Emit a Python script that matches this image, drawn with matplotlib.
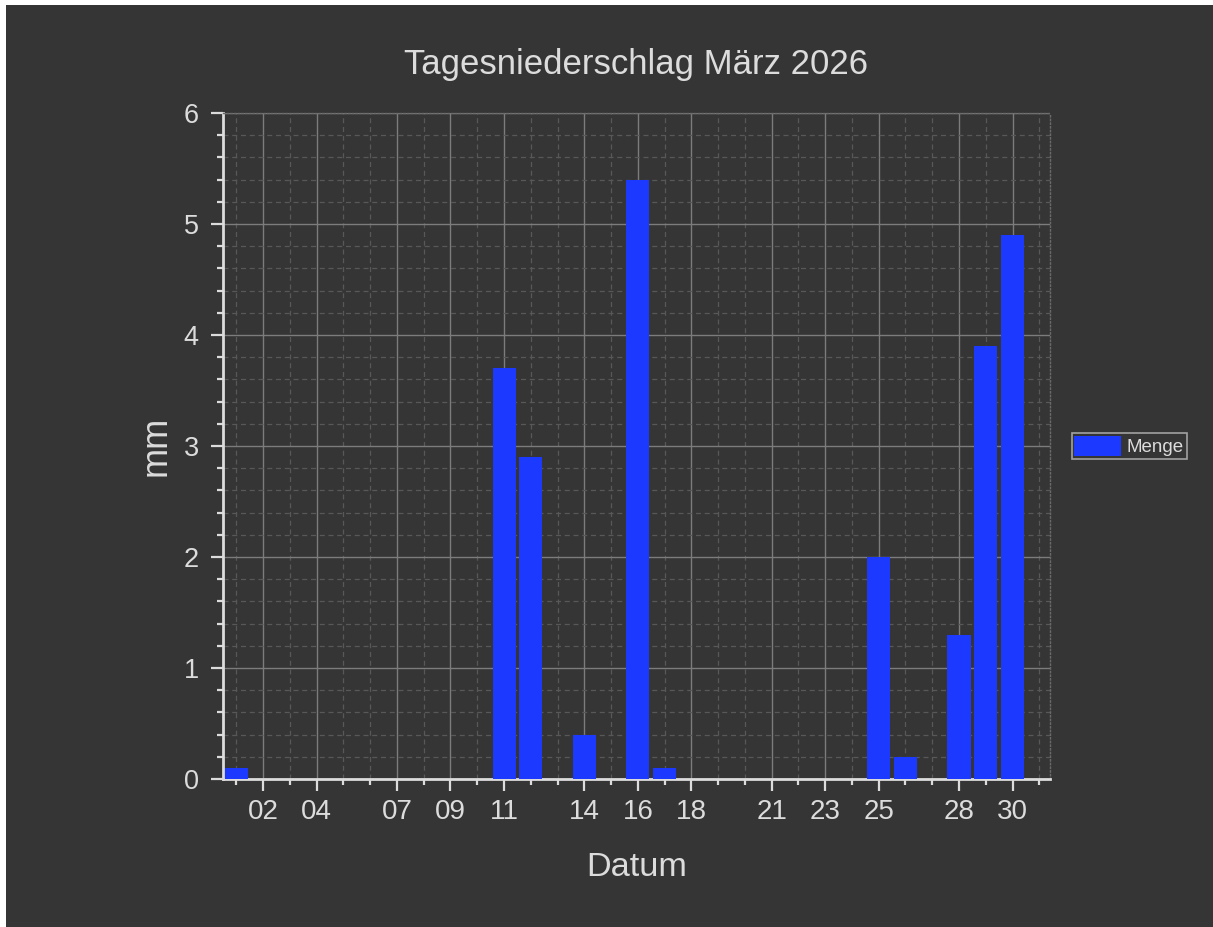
import matplotlib.pyplot as plt
from matplotlib.patches import Rectangle
from matplotlib.ticker import FixedLocator, MultipleLocator

# Niederschlag pro Tag im März 2026
tage = list(range(1, 32))
menge = [0.1, 0, 0, 0, 0, 0, 0, 0, 0, 0,
         3.7, 2.9, 0, 0.4, 0, 5.4, 0.1, 0, 0, 0,
         0, 0, 0, 0, 2.0, 0.2, 0, 1.3, 3.9, 4.9, 0]
tick_tage = [2, 4, 7, 9, 11, 14, 16, 18, 21, 23, 25, 28, 30]
tick_labels = ["02", "04", "07", "09", "11", "14", "16", "18", "21", "23", "25", "28", "30"]

bg = "#353535"
fg = "#dcdcdc"

plt.rcParams["font.family"] = ["Liberation Sans", "DejaVu Sans"]

fig = plt.figure(figsize=(12.13, 9.27), dpi=100, facecolor="white")
# dunkler Hintergrund, oben/links ein schmaler weisser Rand
fig.patches.append(Rectangle((6 / 1213, 0), 1, 1 - 5 / 927, transform=fig.transFigure,
                             facecolor=bg, edgecolor="none", zorder=-10))
ax = fig.add_axes([223 / 1213, 1 - 779 / 927, 827 / 1213, 666 / 927])
ax.set_facecolor(bg)

ax.bar(tage, menge, width=0.86, color="#1c3aff", label="Menge", zorder=3)

ax.set_xlim(0.5, 31.4)
ax.set_ylim(0, 6)
ax.xaxis.set_major_locator(FixedLocator(tick_tage))
ax.set_xticklabels(tick_labels)
ax.xaxis.set_minor_locator(MultipleLocator(1))
ax.yaxis.set_major_locator(MultipleLocator(1))
ax.yaxis.set_minor_locator(MultipleLocator(0.2))

ax.grid(which="major", color="#7c7c7c", linewidth=1.0, linestyle="-", zorder=1)
ax.grid(which="minor", color="#585858", linewidth=0.9, linestyle=(0, (4, 3)), zorder=0)
ax.set_axisbelow(True)

for s in ["left", "bottom"]:
    ax.spines[s].set_color(fg)
    ax.spines[s].set_linewidth(2)
for s in ["top", "right"]:
    ax.spines[s].set_color("#6a6a6a")
    ax.spines[s].set_linewidth(1)
    ax.spines[s].set_linestyle(":")

ax.tick_params(which="major", length=8.5, width=1.6, color=fg, labelcolor=fg, pad=7)
ax.tick_params(which="minor", length=4.3, width=1.6, color=fg)
ax.tick_params(axis="x", which="major", labelsize=20, pad=6)
ax.tick_params(axis="y", which="major", labelsize=19.5, pad=9)

ax.set_title("Tagesniederschlag März 2026", color=fg, fontsize=25, pad=28)
ax.set_xlabel("Datum", color=fg, fontsize=24.7, labelpad=19)
ax.set_ylabel("mm", color=fg, fontsize=26, labelpad=7)

leg = ax.legend(loc="center left", bbox_to_anchor=(1.026, 0.5), fontsize=13.5,
                frameon=True, fancybox=False, borderpad=0.15, handlelength=2.5,
                handleheight=1.3, handletextpad=0.3, borderaxespad=0)
leg.get_frame().set_facecolor(bg)
leg.get_frame().set_edgecolor("#bdbdbd")
leg.get_frame().set_linewidth(1.2)
for t in leg.get_texts():
    t.set_color(fg)

fig.savefig("out.png", dpi=100, facecolor=fig.get_facecolor())
